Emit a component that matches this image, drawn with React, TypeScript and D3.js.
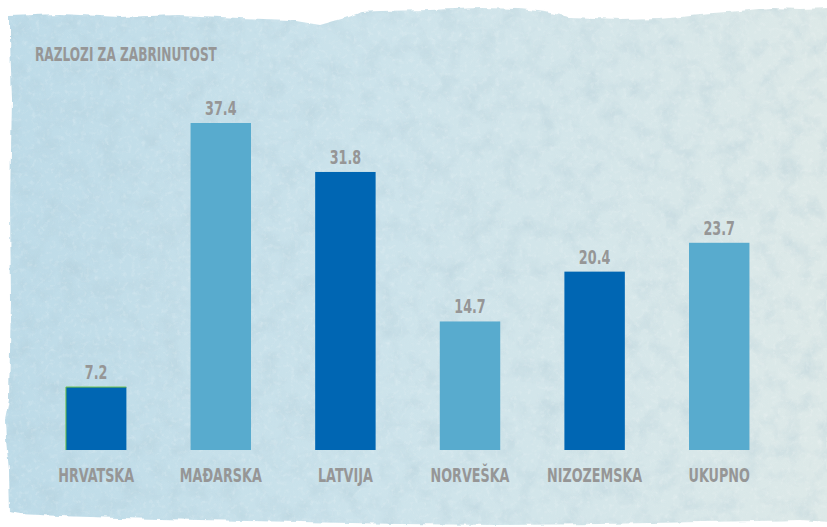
import React from 'react';
import * as d3 from 'd3';

// data
const categories = ['HRVATSKA', 'MAĐARSKA', 'LATVIJA', 'NORVEŠKA', 'NIZOZEMSKA', 'UKUPNO'];
const values = [7.2, 37.4, 31.8, 14.7, 20.4, 23.7];
const valueLabels = ['7.2', '37.4', '31.8', '14.7', '20.4', '23.7'];
const barColors = ['#0066b3', '#58abce', '#0066b3', '#58abce', '#0066b3', '#58abce'];
const title = 'RAZLOZI ZA ZABRINUTOST';

const W = 827;
const H = 527;
const FONT = '"DejaVu Sans Condensed", "DejaVu Sans", sans-serif';
const GRAY = '#969696';
const SQUEEZE = 0.71; // condensed look

// torn paper outline
const paperPts: [number, number][] = [
  [10, 16], [60, 14], [120, 17], [180, 15], [240, 18], [290, 20], [320, 25], [345, 18],
  [362, 12], [380, 11], [430, 10], [480, 8], [520, 9], [545, 12], [570, 17], [620, 19],
  [660, 18], [700, 14], [740, 11], [770, 8], [800, 9], [830, 8],
  [830, 522], [800, 520], [760, 521], [700, 522], [600, 524], [500, 525], [400, 524],
  [300, 522], [200, 520], [120, 518], [60, 516], [20, 514], [10, 512],
  [9, 470], [6, 440], [5, 420], [9, 400], [11, 300], [10, 200], [12, 100], [10, 40],
];

const Label = ({ x, y, size, anchor = 'middle', children }: any) => (
  <g transform={`translate(${x},${y}) scale(${SQUEEZE},1)`}>
    <text x={0} y={0} textAnchor={anchor} fill={GRAY} fontFamily={FONT} fontWeight="bold" fontSize={size}>
      {children}
    </text>
  </g>
);

export default function App() {
  const x = d3.scaleBand<string>()
    .domain(categories)
    .range([34.8, 780.6])
    .paddingInner(0.515)
    .paddingOuter(0.25);

  const y = d3.scaleLinear()
    .domain([0, 37.4])
    .range([450, 123]);

  const paperPath = d3.line()(paperPts) + 'Z';

  return (
    <svg width={W} height={H} style={{ position: 'absolute', left: 0, top: 0, background: '#fff' }}>
      <defs>
        <linearGradient id="paperGrad" x1="0" y1="0" x2="1" y2="0">
          <stop offset="0%" stopColor="#bddbe8" />
          <stop offset="45%" stopColor="#cce3eb" />
          <stop offset="100%" stopColor="#dde9e8" />
        </linearGradient>
        <filter id="rough" x="-2%" y="-2%" width="104%" height="104%">
          <feTurbulence type="fractalNoise" baseFrequency="0.08" numOctaves="2" seed="3" result="n" />
          <feDisplacementMap in="SourceGraphic" in2="n" scale="5" xChannelSelector="R" yChannelSelector="G" />
        </filter>
        <filter id="mottle" x="0" y="0" width="100%" height="100%">
          <feTurbulence type="fractalNoise" baseFrequency="0.05" numOctaves="4" seed="7" result="t" />
          <feColorMatrix in="t" type="matrix"
            values="0 0 0 0 0.42
                    0 0 0 0 0.58
                    0 0 0 0 0.66
                    1.5 0 0 0 -0.68" result="c" />
          <feComposite in="c" in2="SourceGraphic" operator="in" />
        </filter>
        <filter id="speck" x="0" y="0" width="100%" height="100%">
          <feTurbulence type="fractalNoise" baseFrequency="0.22" numOctaves="3" seed="11" result="t" />
          <feColorMatrix in="t" type="matrix"
            values="0 0 0 0 1
                    0 0 0 0 1
                    0 0 0 0 1
                    0 1.4 0 0 -0.7" result="c" />
          <feComposite in="c" in2="SourceGraphic" operator="in" />
        </filter>
        <clipPath id="paperClip">
          <path d={paperPath} />
        </clipPath>
      </defs>

      {/* paper background */}
      <g filter="url(#rough)">
        <path d={paperPath} fill="url(#paperGrad)" />
        <g clipPath="url(#paperClip)">
          <rect x={0} y={0} width={W} height={H} fill="#000" filter="url(#mottle)" opacity={0.5} />
          <rect x={0} y={0} width={W} height={H} fill="#000" filter="url(#speck)" opacity={0.35} />
        </g>
      </g>

      <Label x={35} y={61} size={19} anchor="start">{title}</Label>

      {/* bars */}
      {categories.map((c, i) => {
        const cx = (x(c) ?? 0) + x.bandwidth() / 2;
        return (
          <g key={c}>
            <rect
              x={x(c)}
              y={y(values[i])}
              width={x.bandwidth()}
              height={y(0) - y(values[i])}
              fill={barColors[i]}
            />
            <Label x={cx} y={y(values[i]) - 8} size={20}>{valueLabels[i]}</Label>
            <Label x={cx} y={482} size={20}>{c}</Label>
          </g>
        );
      })}
      {/* thin green edge on first bar */}
      <path
        d={`M${x(categories[0])},${y(0)}V${y(values[0])}H${(x(categories[0]) ?? 0) + x.bandwidth()}`}
        fill="none"
        stroke="#6cc04a"
        strokeWidth={1}
      />
    </svg>
  );
}
